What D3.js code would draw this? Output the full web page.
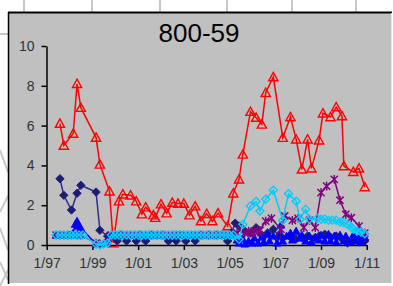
<!DOCTYPE html>
<html><head><meta charset="utf-8">
<script src="https://cdn.jsdelivr.net/npm/d3@7"></script>
<style>html,body{margin:0;padding:0;background:#fff;overflow:hidden}</style>
</head><body><svg id="c" width="393" height="286"></svg>
<script>
const chartTitle = "800-59";
const yTicks = [0, 2, 4, 6, 8, 10];
const xTickDates = ["1997-01","1999-01","2001-01","2003-01","2005-01","2007-01","2009-01","2011-01"];
const xTickLabels = ["1/97","1/99","1/01","1/03","1/05","1/07","1/09","1/11"];

// shared sampling dates of the flat 0.5 band
const bandDates = ["1999-11","2000-01","2000-03","2000-05","2000-07","2000-09","2000-11","2001-01","2001-03","2001-05","2001-07","2001-09","2001-11","2002-01","2002-03","2002-05","2002-07","2002-09","2002-11","2003-01","2003-03","2003-05","2003-07","2003-09","2003-11","2004-01","2004-03","2004-05","2004-07","2004-09","2004-11","2005-01","2005-03"];
const cyanBand   = [0.5,0.5,0.5,0.5,0.5,0.5,0.5,0.5,0.5,0.5,0.5,0.5,0.5,0.5,0.5,0.5,0.5,0.5,0.5,0.5,0.5,0.5,0.5,0.5,0.5,0.5,0.5,0.5,0.5,0.5,0.5,0.5,0.5];
const blueBand   = [0.5,0.5,0.5,0.5,0.5,0.5,0.5,0.5,0.5,0.5,0.5,0.5,0.5,0.5,0.5,0.5,0.5,0.5,0.5,0.5,0.5,0.5,0.5,0.5,0.5,0.5,0.5,0.5,0.5,0.5,0.5,0.5,0.5];
const purpleBand = [0.5,0.5,0.5,0.5,0.5,0.5,0.5,0.5,0.5,0.5,0.5,0.5,0.5,0.5,0.5,0.5,0.5,0.5,0.5,0.5,0.5,0.5,0.5,0.5,0.5,0.5,0.5,0.5,0.5,0.5,0.5,0.5,0.5];

const redSeries = [["1997-08",6.1],["1997-10",5.0],["1998-03",5.6],["1998-05",8.1],["1998-07",6.9],["1999-03",5.4],["1999-05",4.05],["1999-10",2.7],["1999-12",0.1],["2000-03",2.2],["2000-05",2.55],["2000-09",2.5],["2000-12",2.2],["2001-03",1.55],["2001-05",1.9],["2001-09",1.5],["2001-10",1.37],["2002-01",2.05],["2002-04",1.6],["2002-07",2.13],["2002-10",2.08],["2003-01",2.08],["2003-04",1.5],["2003-07",1.95],["2003-10",1.2],["2004-01",1.57],["2004-04",1.2],["2004-07",1.6],["2004-12",0.95],["2005-03",2.6],["2005-06",3.3],["2005-08",4.55],["2005-12",6.7],["2006-03",6.4],["2006-06",6.06],["2006-08",7.65],["2006-12",8.44],["2007-05",5.39],["2007-09",6.43],["2007-12",5.31],["2008-03",3.8],["2008-06",5.31],["2008-08",3.85],["2008-12",5.26],["2009-02",6.62],["2009-06",6.43],["2009-09",6.93],["2009-12",6.48],["2010-01",3.97],["2010-06",3.68],["2010-09",3.85],["2010-12",2.91]];

const navySeries = [["1997-08",3.33],["1997-10",2.5],["1998-02",1.76],["1998-05",2.6],["1998-07",3.0],["1999-03",2.66],["1999-05",0.74],["1999-09",0.45],["1999-11",0.5],["2000-02",0.2],["2000-04",0.5],["2000-07",0.2],["2000-09",0.5],["2000-12",0.2],["2001-02",0.5],["2001-05",0.2],["2001-08",0.5],["2001-11",0.5],["2002-02",0.5],["2002-05",0.2],["2002-09",0.2],["2002-11",0.5],["2003-02",0.2],["2003-05",0.5],["2003-07",0.2],["2003-10",0.5],["2004-02",0.5],["2004-06",0.5],["2004-09",0.5],["2004-12",0.2],["2005-02",0.62],["2005-04",1.1],["2005-06",0.95],["2005-09",0.7],["2005-12",0.6],["2006-03",0.87],["2006-06",0.5],["2006-09",0.6],["2006-12",0.79],["2007-03",0.45],["2007-05",0.34],["2007-09",0.4],["2007-12",0.3],["2008-03",0.37],["2008-06",0.45],["2008-09",0.3],["2008-12",0.45],["2009-03",0.54],["2009-06",0.4],["2009-09",0.45],["2009-12",0.3],["2010-03",0.1],["2010-06",0.2],["2010-09",0.15],["2010-12",0.2]];

const blueEarly = [["1997-06",0.5],["1997-08",0.5],["1997-10",0.5],["1998-01",0.5],["1998-03",0.6],["1998-04",1.04],["1998-05",1.2],["1998-06",0.95],["1998-07",0.85],["1999-03",0.05],["1999-05",0.05],["1999-09",0.3]];
const blueLate = [["2005-05",0.25],["2005-06",0.1],["2005-08",0.3],["2005-09",0.05],["2005-11",0.2],["2006-01",0.1],["2006-02",0.35],["2006-04",0.1],["2006-06",0.4],["2006-07",0.15],["2006-09",0.55],["2006-10",0.2],["2006-12",0.45],["2007-02",0.1],["2007-04",1.0],["2007-05",0.2],["2007-07",0.45],["2007-09",0.6],["2007-10",0.25],["2007-12",0.7],["2008-02",0.35],["2008-03",0.5],["2008-05",0.2],["2008-07",0.45],["2008-08",0.15],["2008-10",0.4],["2008-12",0.25],["2009-01",0.5],["2009-03",0.2],["2009-05",0.55],["2009-06",0.2],["2009-08",0.45],["2009-09",0.15],["2009-11",0.5],["2010-01",0.2],["2010-02",0.45],["2010-04",0.15],["2010-06",0.5],["2010-07",0.2],["2010-09",0.45],["2010-10",0.15],["2010-12",0.4]];

const purpleEarly = [["1997-06",0.5],["1997-08",0.5],["1997-10",0.5],["1997-12",0.5],["1998-02",0.5],["1998-05",0.5],["1998-07",0.5],["1999-03",0.1],["1999-05",0.05],["1999-09",0.1]];
const purpleLate = [["2005-05",0.6],["2005-07",0.79],["2005-09",0.6],["2005-11",0.7],["2006-01",0.6],["2006-02",0.7],["2006-04",0.65],["2006-05",0.74],["2006-08",1.2],["2006-11",1.34],["2007-04",0.79],["2007-06",1.46],["2007-10",1.24],["2008-01",1.34],["2008-04",0.87],["2008-07",1.24],["2008-10",0.87],["2009-01",2.63],["2009-04",2.96],["2009-08",3.3],["2009-11",2.25],["2010-02",1.54],["2010-05",1.37],["2010-09",0.95],["2010-12",0.6]];

const cyanEarly = [["1997-06",0.5],["1997-08",0.5],["1997-10",0.5],["1997-12",0.5],["1998-02",0.5],["1998-04",0.5],["1998-06",0.5],["1998-08",0.5],["1999-03",0.05],["1999-05",0.0],["1999-07",0.05],["1999-09",0.1]];
const cyanLate = [["2005-06",0.29],["2005-08",1.04],["2005-12",1.96],["2006-03",2.18],["2006-05",1.71],["2006-08",2.3],["2006-12",2.75],["2007-05",1.24],["2007-08",2.58],["2007-12",2.2],["2008-02",1.29],["2008-05",1.79],["2008-07",1.29],["2008-11",1.34],["2009-01",1.29],["2009-03",1.3],["2009-05",1.24],["2009-07",1.25],["2009-09",1.24],["2009-11",1.15],["2010-01",1.12],["2010-03",1.04],["2010-05",0.9],["2010-06",0.79],["2010-08",0.7],["2010-10",0.65],["2010-12",0.57]];

const parse = d3.timeParse("%Y-%m");
const zipBand = vals => bandDates.map((d, i) => [d, vals[i]]);

const svg = d3.select("#c");

// backdrop sheet lines
const bg = svg.append("g").attr("stroke", "#c8c8c8").attr("stroke-width", 2).attr("fill", "none");
[24, 92, 160, 227, 292, 356].forEach(x => bg.append("line").attr("x1", x).attr("x2", x).attr("y1", 0).attr("y2", 12));
bg.append("line").attr("x1", 0).attr("x2", 8).attr("y1", 34).attr("y2", 34);
bg.append("path").attr("d", "M0,150L8,172M0,212L8,196M0,228L8,250M0,262L8,280M8,270L0,286");

// chart area
svg.append("rect").attr("x", 9).attr("y", 13).attr("width", 382).attr("height", 270).attr("fill", "#c0c0c0");
svg.append("line").attr("x1", 8).attr("x2", 392).attr("y1", 12.5).attr("y2", 12.5).attr("stroke", "#000").attr("stroke-width", 2);
svg.append("line").attr("x1", 8.5).attr("x2", 8.5).attr("y1", 12).attr("y2", 284).attr("stroke", "#000").attr("stroke-width", 1.5);
svg.append("line").attr("x1", 391.5).attr("x2", 391.5).attr("y1", 13).attr("y2", 283).attr("stroke", "#e6e6e6").attr("stroke-width", 1);

const x = d3.scaleTime().domain([parse("1997-01"), parse("2011-01")]).range([46.7, 366.7]);
const y = d3.scaleLinear().domain([0, 10]).range([245, 46]);

// title
svg.append("text").attr("x", 199).attr("y", 42).attr("text-anchor", "middle")
  .attr("font-family", "Liberation Sans, Arial, sans-serif").attr("font-size", 26).attr("fill", "#000").text(chartTitle);

// axes
const yAxis = d3.axisLeft(y).tickValues(yTicks).tickSize(5).tickSizeOuter(0).tickPadding(7).tickFormat(d3.format("d"));
const gy = svg.append("g").attr("transform", "translate(46.5,0)").call(yAxis);
const xAxis = d3.axisBottom(x).tickValues(xTickDates.map(parse)).tickSize(5).tickSizeOuter(0).tickPadding(8)
  .tickFormat((d, i) => xTickLabels[i]);
const gx = svg.append("g").attr("transform", "translate(0,245)").call(xAxis);
[gx, gy].forEach(g => {
  g.select(".domain").attr("stroke", "#000").attr("stroke-width", 1.5);
  g.selectAll(".tick line").attr("stroke", "#000").attr("stroke-width", 1.5);
  g.selectAll("text").attr("font-family", "Liberation Sans, Arial, sans-serif").attr("font-size", 14).attr("fill", "#333");
});

const triPath = r => `M0,${-r}L${r},${r*0.8}L${-r},${r*0.8}Z`;
const diaPath = r => `M0,${-r}L${r},0L0,${r}L${-r},0Z`;
const starPath = r => `M${-r},${-r}L${r},${r}M${-r},${r}L${r},${-r}M0,${-r*1.2}L0,${r*1.2}`;

const line = d3.line().x(d => x(parse(d[0]))).y(d => y(d[1]));

function drawSeries(data, opt) {
  const g = svg.append("g");
  g.append("path").datum(data).attr("d", line).attr("fill", "none")
    .attr("stroke", opt.line).attr("stroke-width", opt.lw || 1.5);
  g.selectAll("path.m").data(data).join("path").attr("class", "m")
    .attr("transform", d => `translate(${x(parse(d[0]))},${y(d[1])})`)
    .attr("d", opt.shape)
    .attr("fill", opt.fill).attr("stroke", opt.stroke).attr("stroke-width", opt.sw);
}

drawSeries(redSeries, {line: "#ff0000", shape: triPath(4.6), fill: "none", stroke: "#ff0000", sw: 1.4});
drawSeries(navySeries, {line: "#2e2e8e", shape: diaPath(4.2), fill: "#1c1c72", stroke: "#262680", sw: 1});
drawSeries(blueEarly.concat(zipBand(blueBand), blueLate), {line: "#0000ff", shape: triPath(3.8), fill: "#0000ff", stroke: "#0000ff", sw: 1});
drawSeries(purpleEarly.concat(zipBand(purpleBand), purpleLate), {line: "#800080", shape: starPath(3.6), fill: "none", stroke: "#800080", sw: 1.5});
drawSeries(cyanEarly.concat(zipBand(cyanBand), cyanLate), {line: "#00ccff", shape: diaPath(4), fill: "none", stroke: "#00ccff", sw: 1.4});
</script>
</body></html>
